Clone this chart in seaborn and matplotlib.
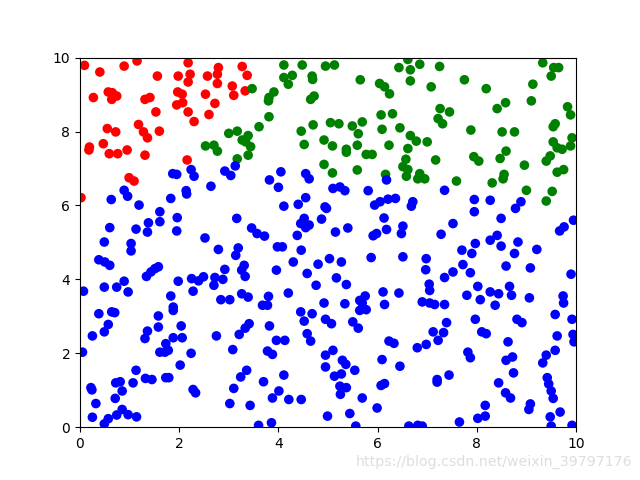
import matplotlib
matplotlib.use("Agg")
import matplotlib.pyplot as plt
import seaborn as sns
import pandas as pd

red_x = [0.09, 0.40, 0.89, 1.15, 1.56, 1.98, 2.22, 2.18, 2.18, 0.27, 0.57, 0.65, 0.64, 0.74, 1.31, 1.41,
         1.97, 2.06, 1.95, 2.07, 1.53, 2.18, 2.30, 0.55, 0.72, 1.18, 1.28, 1.36, 1.60, 0.19, 0.18, 0.47,
         0.59, 0.76, 0.95, 1.31, 2.16, 0.99, 1.09, 0.02,
         2.79, 2.77, 2.57, 2.77, 3.27, 3.37, 3.07, 3.10, 3.33, 2.53, 2.72, 2.60]
red_y = [9.79, 9.61, 9.77, 9.91, 9.50, 9.50, 9.55, 9.34, 9.86, 8.92, 9.07, 9.05, 8.87, 8.96, 8.87, 8.92,
         9.07, 9.01, 8.72, 8.78, 8.53, 8.53, 8.27, 8.08, 7.99, 8.19, 7.99, 7.83, 8.01, 7.58, 7.50, 7.67,
         7.40, 7.40, 7.50, 7.36, 7.23, 6.75, 6.66, 6.21,
         9.73, 9.55, 9.50, 9.30, 9.76, 9.52, 9.23, 8.98, 9.10, 9.01, 8.76, 8.46]

green_x = [3.47, 4.11, 4.48, 4.95, 4.11, 4.28, 4.20, 4.68, 4.69, 3.91, 3.81, 3.80, 4.72, 4.65, 3.81, 3.61,
           4.70, 4.46, 5.05, 3.00, 3.17, 3.39, 3.27, 3.34, 3.44, 3.39, 2.53, 2.70, 2.77, 3.17, 4.52, 4.92,
           4.92,
           5.13, 6.61, 6.43, 6.66, 6.85, 7.25, 6.66, 7.08, 5.65, 6.04, 6.14, 6.24, 7.26, 7.45, 7.22, 7.31,
           6.07, 6.30, 5.22, 5.49, 5.69, 5.61, 6.09, 6.45, 5.09, 5.37, 5.37, 5.59, 5.77, 5.89, 6.23, 6.66,
           6.78, 7.00, 6.61, 6.57, 6.51, 6.61, 6.58, 6.85, 6.81, 6.95, 7.17, 5.09, 5.59, 6.16,
           9.33, 9.55, 9.65, 9.50, 7.75, 8.19, 9.13, 9.10, 8.58, 8.41, 9.83, 9.89, 7.88, 8.51, 8.76, 9.58,
           9.54, 9.92, 9.54, 9.62, 9.72, 9.89, 8.59, 8.47, 7.94, 8.04, 8.96, 9.48, 9.40, 9.75, 9.62, 8.55,
           8.53, 7.59, 8.31, 9.00, 9.52, 9.40]
green_y = [9.16, 9.80, 9.80, 9.77, 9.46, 9.52, 9.28, 9.50, 9.41, 9.07, 8.92, 8.83, 8.96, 8.87, 8.40, 8.13,
           8.18, 8.01, 8.24, 7.95, 8.01, 7.89, 7.77, 7.72, 7.59, 7.36, 7.61, 7.63, 7.47, 7.26, 7.65, 7.77,
           7.11,
           9.80, 9.95, 9.73, 9.67, 9.82, 9.76, 9.37, 9.21, 9.40, 9.30, 9.21, 9.02, 8.62, 8.53, 8.35, 8.21,
           8.45, 8.48, 8.21, 8.15, 8.26, 7.94, 8.06, 8.10, 7.61, 7.52, 7.44, 7.63, 7.38, 7.38, 7.63, 7.89,
           7.74, 7.72, 7.54, 7.25, 7.05, 6.97, 6.79, 6.86, 6.72, 6.72, 7.23, 6.88, 6.96, 6.84,
           9.86, 9.73, 9.73, 9.50, 9.40, 9.16, 9.28, 8.83, 8.78, 8.62, 8.67, 8.45, 8.04, 7.99, 7.99, 8.21,
           8.13, 7.83, 7.72, 7.56, 7.52, 7.61, 7.47, 7.27, 7.32, 7.20, 7.09, 7.34, 7.20, 6.97, 6.90, 6.84,
           6.72, 6.66, 6.61, 6.41, 6.38, 6.12]

blue_x = [1.87, 1.95, 2.24, 2.30, 3.13, 2.92, 3.04, 4.05, 4.55, 4.62, 3.82, 2.64, 6.18,
          0.89, 0.96, 0.63, 1.19, 1.83, 2.14, 2.15, 1.61, 1.61, 1.38, 1.36, 1.96, 1.95, 1.13, 0.60, 2.52,
          0.49, 1.03, 1.03, 0.38, 0.50, 0.60, 1.34, 1.43, 1.51, 1.58, 0.07, 0.49, 0.74, 0.89, 0.97,
          1.83, 1.98, 2.25, 2.39, 2.49, 2.28, 1.88,
          4.00, 4.55, 4.40, 4.11, 4.94, 3.16, 3.46, 3.57, 3.72, 4.52, 4.45, 4.62, 4.55, 4.87, 4.38, 2.79,
          3.19, 3.14, 3.98, 4.08, 4.46, 5.03, 4.30, 4.80, 3.31, 3.26, 3.33, 2.92, 3.96, 4.58, 2.72, 2.88,
          2.70, 4.76, 3.26, 3.39, 3.80, 4.20, 2.84, 3.02, 3.68, 3.78, 4.92,
          5.10, 5.24, 5.34, 5.81, 7.35, 5.94, 6.05, 6.21, 6.36, 6.71, 6.68, 4.97, 6.13, 5.15, 5.40, 5.91,
          5.98, 6.18, 6.51, 6.48, 7.28, 7.52, 5.27, 5.87, 6.51, 6.98, 6.97, 5.17, 5.37, 7.35, 7.52, 7.04,
          7.05, 6.11, 6.43, 5.75, 5.64, 5.69, 5.34, 6.14, 6.90, 7.05, 7.15, 7.35,
          7.95, 8.27, 7.95, 8.89, 8.78, 8.49, 9.95, 9.76, 9.67, 8.41, 8.27, 7.97, 7.70, 7.90, 8.49, 8.83,
          8.76, 9.21, 7.72, 7.87, 8.59, 9.08, 9.90, 8.02, 8.27, 8.44, 8.66, 8.70, 7.80, 8.07, 9.06, 9.74,
          9.75, 8.37,
          0.38, 0.64, 0.70, 0.57, 0.49, 0.25, 1.58, 1.88, 1.58, 2.04, 1.36, 1.31, 1.88, 2.06, 1.73, 1.61,
          1.71, 1.78, 0.05, 2.24, 2.02, 1.13, 1.32, 1.45, 0.72, 0.81, 1.07, 0.85, 1.73, 1.79, 0.22, 0.24,
          2.28, 2.33, 0.71, 0.32, 0.25, 0.57, 0.49, 0.74, 0.85, 0.97, 1.14,
          4.45, 4.52, 4.68, 4.95, 3.41, 3.33, 3.21, 3.82, 2.75, 3.96, 4.13, 4.58, 4.65, 3.08, 3.78, 3.88,
          4.95, 4.95, 3.36, 3.24, 4.11, 3.70, 3.10, 4.01, 3.88, 4.21, 4.46, 3.02, 3.43, 3.60, 3.86, 4.99,
          5.64, 5.77, 5.07, 5.50, 5.61, 7.39, 7.12, 7.33, 7.22, 6.98, 6.80, 6.23, 6.33, 5.10, 5.29, 5.36,
          5.54, 5.13, 5.27, 6.09, 6.45, 5.24, 5.37, 5.25, 6.07, 6.14, 5.69, 5.99, 5.44, 5.56, 7.20, 7.20,
          7.44, 6.63, 6.81, 6.90,
          7.97, 8.81, 8.91, 9.58, 9.92, 8.10, 8.19, 9.62, 9.94, 9.96, 8.63, 7.82, 7.87, 8.59, 8.72, 9.40,
          9.33, 9.58, 8.74, 8.44, 8.58, 8.68, 9.42, 9.45, 9.50, 9.54, 9.08, 9.05, 9.68, 9.48, 9.50, 9.92,
          8.17, 8.17, 8.02, 7.65]
blue_y = [6.86, 6.84, 6.97, 6.79, 7.07, 6.93, 6.81, 6.91, 6.86, 6.72, 6.69, 6.52, 6.69,
          6.41, 6.25, 6.16, 6.01, 6.19, 6.40, 6.31, 5.83, 5.56, 5.53, 5.28, 5.67, 5.31, 5.36, 5.40, 5.12,
          5.01, 4.97, 4.77, 4.53, 4.47, 4.38, 4.08, 4.20, 4.29, 4.34, 3.68, 3.79, 3.79, 3.95, 3.66,
          3.55, 3.95, 4.02, 3.96, 4.07, 3.68, 3.25,
          6.49, 6.21, 6.03, 5.98, 5.96, 5.65, 5.39, 5.24, 5.17, 5.65, 5.51, 5.47, 5.40, 5.63, 5.19, 4.81,
          4.85, 4.65, 4.88, 4.88, 4.79, 4.56, 4.47, 4.41, 4.38, 4.25, 4.08, 4.27, 4.25, 4.16, 4.05, 4.00,
          3.84, 3.84, 3.61, 3.52, 3.54, 3.63, 3.45, 3.45, 3.30, 3.30, 3.36,
          6.46, 6.50, 6.40, 6.40, 6.41, 6.01, 6.10, 6.17, 6.19, 6.10, 5.98, 5.92, 5.66, 5.28, 5.39, 5.18,
          5.24, 5.35, 5.44, 5.24, 5.22, 5.51, 4.47, 4.59, 4.61, 4.56, 4.26, 4.04, 3.86, 4.05, 4.20, 3.87,
          3.70, 3.66, 3.63, 3.55, 3.43, 3.36, 3.34, 3.32, 3.39, 3.36, 3.32, 3.32,
          6.16, 6.14, 5.83, 6.10, 5.92, 5.65, 5.60, 5.42, 5.31, 5.19, 5.06, 4.97, 4.79, 4.70, 4.90, 5.01,
          4.70, 4.81, 4.40, 4.18, 4.36, 4.31, 4.14, 3.81, 3.66, 3.61, 3.81, 3.57, 3.57, 3.45, 3.50, 3.55,
          3.36, 3.30,
          3.07, 3.12, 3.10, 2.78, 2.58, 2.47, 3.01, 3.16, 2.71, 2.74, 2.60, 2.40, 2.42, 2.42, 2.26, 2.03,
          2.03, 2.08, 2.03, 2.00, 1.68, 1.54, 1.32, 1.29, 1.20, 1.23, 1.20, 0.98, 1.34, 1.34, 1.07, 1.01,
          1.02, 0.93, 0.78, 0.64, 0.27, 0.23, 0.09, 0.33, 0.48, 0.34, 0.28,
          3.12, 2.87, 3.07, 2.92, 2.80, 2.68, 2.51, 2.74, 2.47, 2.35, 2.35, 2.53, 2.33, 2.10, 2.06, 1.97,
          1.95, 1.63, 1.54, 1.36, 1.41, 1.23, 1.05, 0.98, 0.79, 0.75, 0.75, 0.64, 0.59, 0.05, 0.12, 0.30,
          3.16, 3.18, 2.80, 2.85, 2.68, 2.83, 2.58, 2.56, 2.35, 2.24, 2.15, 2.33, 2.27, 2.08, 1.81, 1.70,
          1.54, 1.38, 1.44, 1.83, 1.65, 1.11, 1.07, 0.89, 1.13, 1.18, 0.79, 0.52, 0.37, 0.03, 1.29, 1.22,
          1.41, 0.03, 0.05, 0.03,
          2.92, 2.92, 2.83, 3.05, 2.92, 2.58, 2.53, 2.47, 2.51, 2.31, 2.31, 2.03, 1.88, 1.81, 1.90, 1.95,
          1.74, 2.08, 1.47, 1.20, 0.93, 0.79, 1.34, 1.17, 0.98, 0.78, 0.63, 0.48, 0.41, 0.28, 0.03, 0.05,
          0.59, 0.30, 0.24, 0.14]

labels = ["red"] * len(red_x) + ["green"] * len(green_x) + ["blue"] * len(blue_x)
df = pd.DataFrame({
    "x": red_x + green_x + blue_x,
    "y": red_y + green_y + blue_y,
    "cls": labels,
})
palette = {"red": "#ff0000", "green": "#008000", "blue": "#0000ff"}

fig, ax = plt.subplots(figsize=(6.4, 4.8), dpi=100)
sns.scatterplot(data=df, x="x", y="y", hue="cls", palette=palette, s=48,
                linewidth=0, legend=False, ax=ax)
ax.set_xlim(0, 10)
ax.set_ylim(0, 10)
ax.set_xticks([0, 2, 4, 6, 8, 10])
ax.set_yticks([0, 2, 4, 6, 8, 10])
ax.set_xlabel("")
ax.set_ylabel("")
fig.text(0.988, 0.038, "https://blog.csdn.net/weixin_39797176", ha="right", va="center",
         color="#dedede", fontsize=10.2)
fig.savefig("out.png", dpi=100)
